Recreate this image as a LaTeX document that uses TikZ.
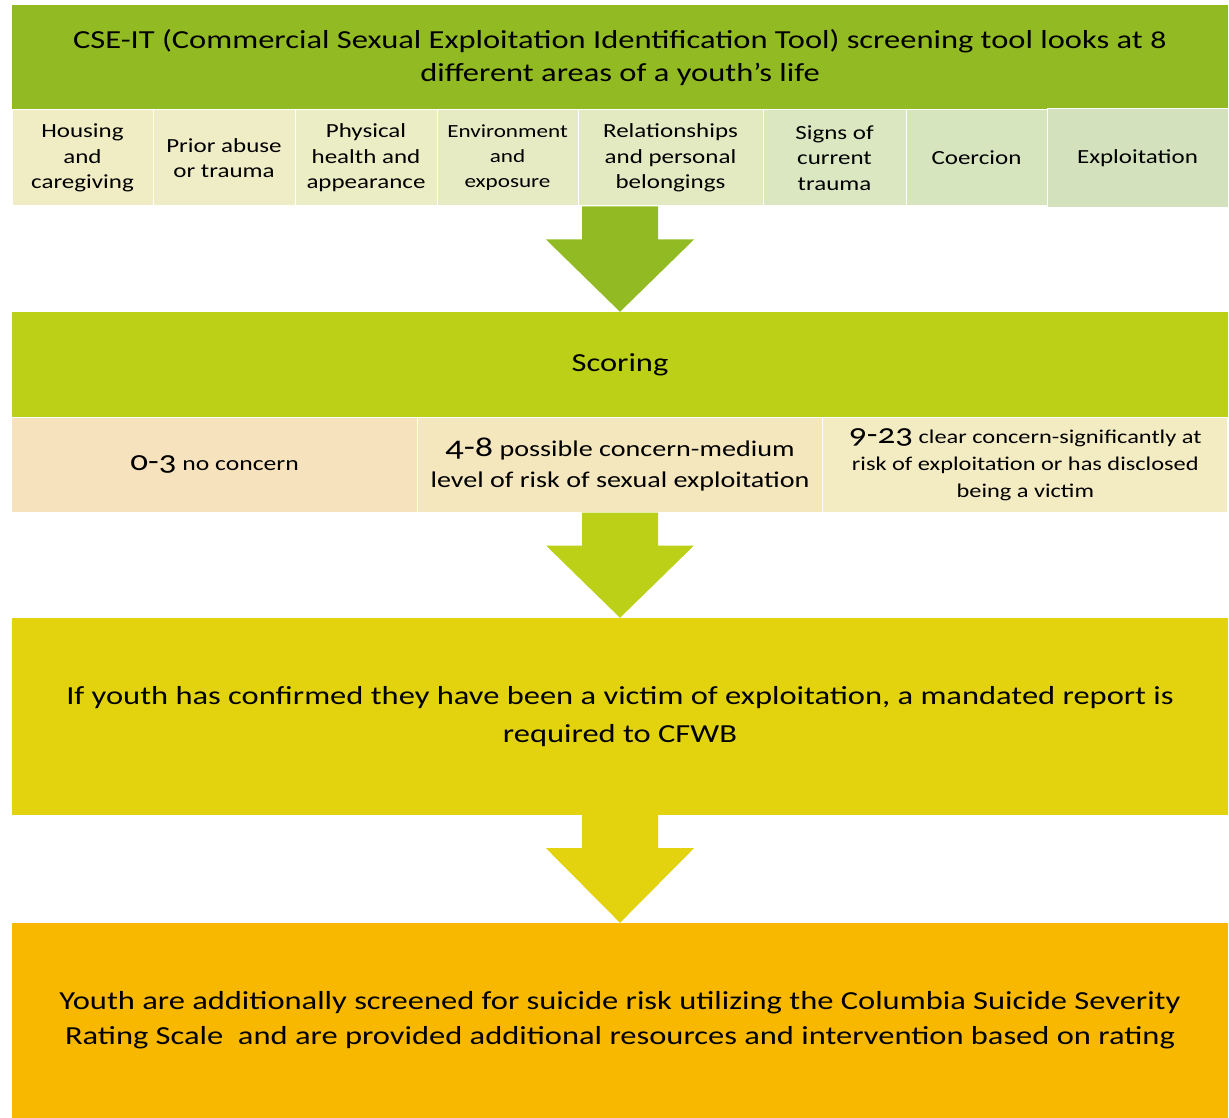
\documentclass[tikz,border=0pt]{standalone}
\usepackage{fontspec}
\setmainfont[Numbers=OldStyle, FakeStretch=1.25]{Carlito}
\usetikzlibrary{calc}

\definecolor{cseGreen}{HTML}{92BB23}
\definecolor{scoreGreen}{HTML}{BCD018}
\definecolor{reportYellow}{HTML}{E3D30E}
\definecolor{screenOrange}{HTML}{F8B800}
\definecolor{area1}{HTML}{F0EDC4}
\definecolor{area2}{HTML}{EFEDC6}
\definecolor{area3}{HTML}{EBEDC4}
\definecolor{area4}{HTML}{E6EBC4}
\definecolor{area5}{HTML}{E3EAC2}
\definecolor{area6}{HTML}{DBE7C0}
\definecolor{area7}{HTML}{D7E5BF}
\definecolor{area8}{HTML}{D3E2BD}
\definecolor{score1}{HTML}{F6E2BC}
\definecolor{score2}{HTML}{F4E7BE}
\definecolor{score3}{HTML}{F3EBC2}

\tikzset{
  band/.style={inner sep=0pt, align=center, minimum width=1216pt,
    font=\fontsize{26}{33}\selectfont},
  area/.style={inner sep=0pt, align=center, draw=white, line width=1pt,
    minimum height=96pt, font=\fontsize{20}{25.5}\selectfont},
  area 4/.style={font=\fontsize{18.5}{25}\selectfont},
  area 8/.style={minimum height=99pt},
  score/.style={inner sep=0pt, align=center, draw=white, line width=1pt,
    minimum height=95pt, minimum width=405.33pt}
}

\begin{document}
\begin{tikzpicture}[x=1pt, y=-1pt]
\useasboundingbox (0,0) rectangle (1229,1118);

\node [band, fill=cseGreen, minimum height=105pt] (header) at (620,57.5)
  {CSE-IT (Commercial Sexual Exploitation Identification Tool) screening tool looks at 8\\
   different areas of a youth’s life};

\foreach \l/\w/\t [count=\i] in {
    12/141/{Housing\\and\\caregiving},
    153/142/{Prior abuse\\or trauma},
    295/142/{Physical\\health and\\appearance},
    437/141/{Environment\\and\\exposure},
    578/185/{Relationships\\and personal\\belongings},
    763/143/{Signs of\\current\\trauma},
    906/141/{Coercion},
    1047/181/{Exploitation}}
  \node [area, area \i/.try, fill=area\i, minimum width=\w pt] (area-\i)
    at (\l+\w/2,158) {\t};

\node [band, fill=scoreGreen, minimum height=105pt] (scoring) at (620,364.5)
  {Scoring};

\foreach \f/\s/\t [count=\i] in {
    20.5/30/{{\fontsize{28}{30}\selectfont 0-3} no concern},
    22.5/31/{{\fontsize{29}{31}\selectfont 4-8} possible concern-medium\\level of risk of sexual exploitation},
    19.5/27/{{\fontsize{28}{27}\selectfont 9-23} clear concern-significantly at\\risk of exploitation or has disclosed\\being a victim}}
  \node [score, fill=score\i, font=\fontsize{\f}{\s}\selectfont] (score-\i)
    at (12+405.33*\i-202.67,464.5) {\t};

\node [band, fill=reportYellow, minimum height=197pt, font=\fontsize{26}{38}\selectfont] (report) at (620,716.5)
  {If youth has confirmed they have been a victim of exploitation, a mandated report is\\
   required to CFWB};

\node [band, fill=screenOrange, minimum height=195pt, font=\fontsize{26}{35}\selectfont] (screen) at (620,1020.5)
  {Youth are additionally screened for suicide risk utilizing the Columbia Suicide Severity\\
   Rating Scale\ \ and are provided additional resources and intervention based on rating};

\foreach \a/\b/\c in {area-5/scoring/cseGreen, score-2/report/scoreGreen, report/screen/reportYellow} {
  \path (\b.north |- \a.south) coordinate (s);
  \fill [\c] ($(s)+(-38,0)$) -- ($(s)+(38,0)$) -- ($(s)+(38,33)$) -- ($(s)+(74,33)$)
    -- (\b.north) -- ($(s)+(-74,33)$) -- ($(s)+(-38,33)$) -- cycle;
}

\end{tikzpicture}
\end{document}
